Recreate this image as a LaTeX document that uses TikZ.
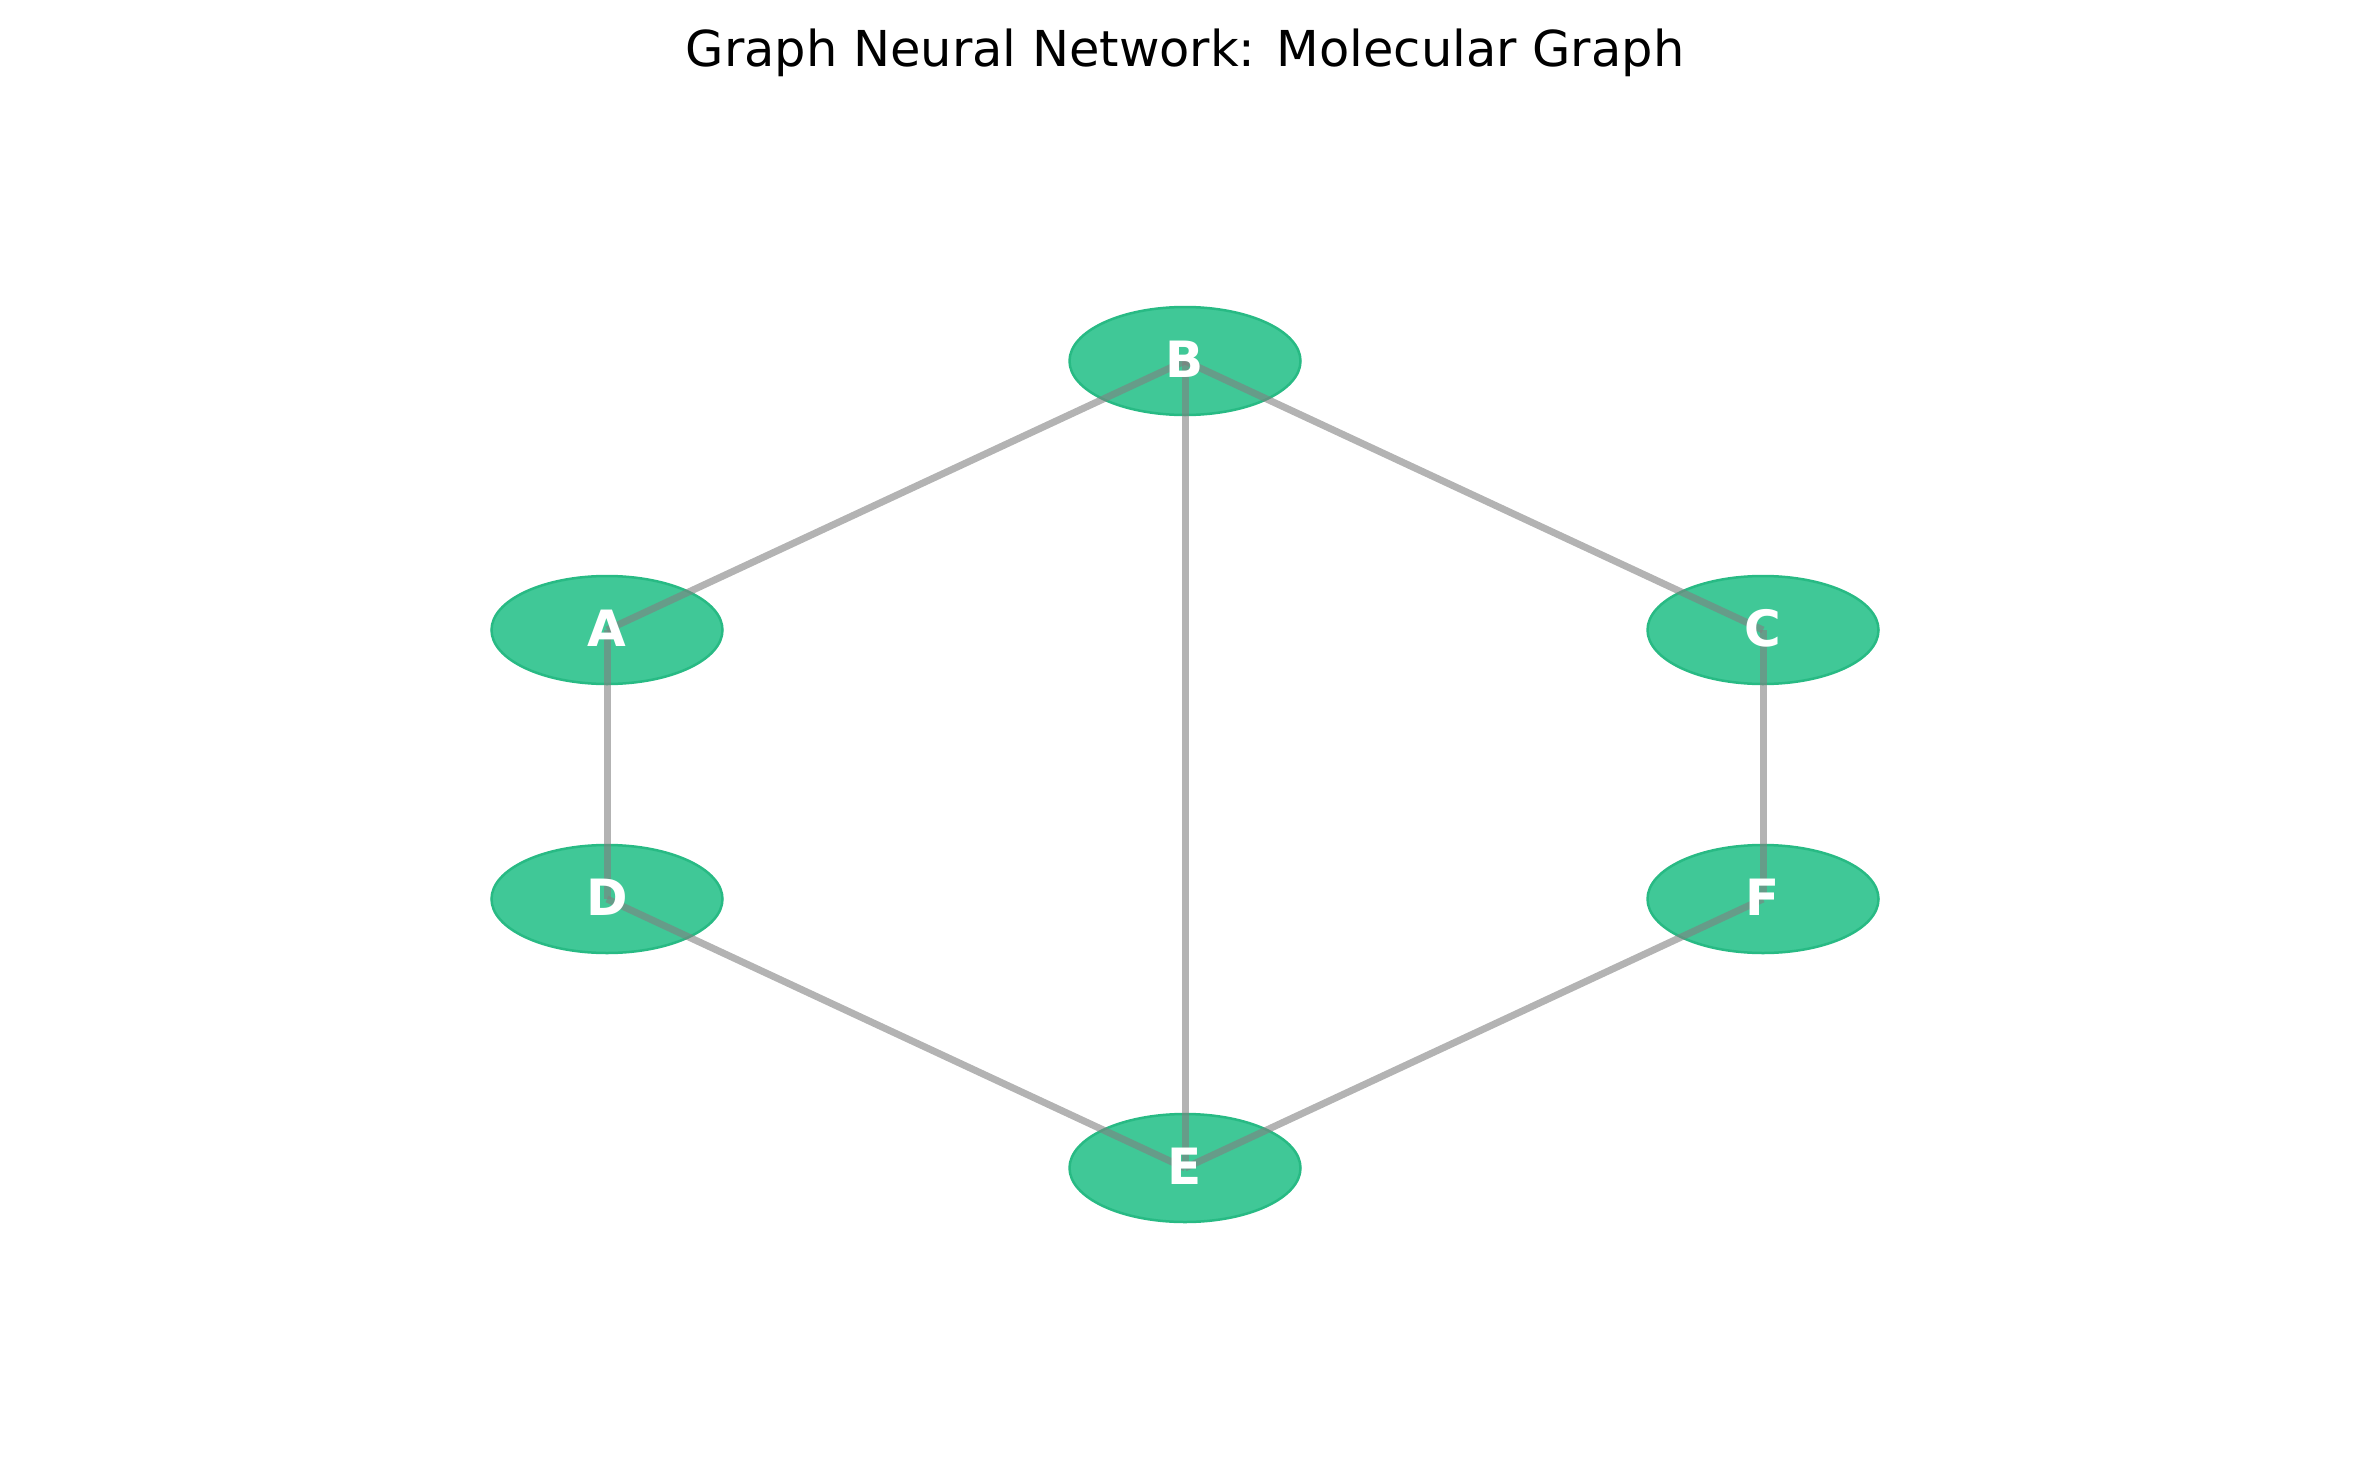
\documentclass[tikz,border=0pt]{standalone}
\usepackage{fontspec}
\setmainfont{DejaVu Sans}
\usetikzlibrary{shapes.geometric}
\definecolor{nodefill}{RGB}{64,200,151}
\definecolor{nodeedge}{RGB}{40,186,132}
\definecolor{edgegray}{RGB}{128,128,128}
\tikzset{
  atom/.style={ellipse, draw=nodeedge, fill=nodefill, line width=2.5pt, minimum width=231pt, minimum height=108pt, inner sep=0pt},
  bond/.style={draw=edgegray, line width=7pt, opacity=0.6},
  lbl/.style={text=white, font=\fontsize{50}{60}\selectfont\bfseries, inner sep=0pt, anchor=center},
  ttl/.style={font=\fontsize{49.5}{60}\selectfont, inner sep=0pt, anchor=base}
}
\begin{document}
\begin{tikzpicture}[x=1pt,y=-1pt]
\useasboundingbox (0,0) rectangle (2370,1466);
\node[ttl] (title) at (1185,67) {Graph Neural Network: Molecular Graph};
\node[atom] (nA) at (607,630) {};
\node[atom] (nB) at (1185,361) {};
\node[atom] (nC) at (1763,630) {};
\node[atom] (nD) at (607,899) {};
\node[atom] (nE) at (1185,1168) {};
\node[atom] (nF) at (1763,899) {};
\draw[bond] (nA.center) -- (nB.center);
\draw[bond] (nB.center) -- (nC.center);
\draw[bond] (nA.center) -- (nD.center);
\draw[bond] (nC.center) -- (nF.center);
\draw[bond] (nD.center) -- (nE.center);
\draw[bond] (nF.center) -- (nE.center);
\draw[bond] (nB.center) -- (nE.center);
\node[lbl] (lA) at ([yshift=2pt]nA.center) {A};
\node[lbl] (lB) at ([yshift=2pt]nB.center) {B};
\node[lbl] (lC) at ([yshift=2pt]nC.center) {C};
\node[lbl] (lD) at ([yshift=2pt]nD.center) {D};
\node[lbl] (lE) at ([yshift=2pt]nE.center) {E};
\node[lbl] (lF) at ([yshift=2pt]nF.center) {F};
\end{tikzpicture}
\end{document}
